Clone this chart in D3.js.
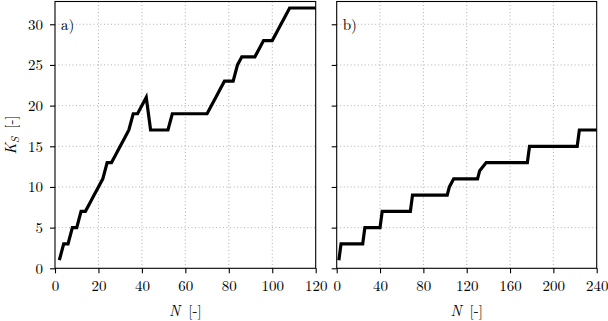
<!DOCTYPE html>
<html>
<head>
<meta charset="utf-8">
<script src="https://cdn.jsdelivr.net/npm/d3@7"></script>
<style>
  body { margin: 0; background: #fff; }
  .grid line { stroke: #b0b0b0; stroke-dasharray: 1,2.5; stroke-width: 1; }
</style>
</head>
<body>
<div id="chart"></div>
<script>
// panel a)
const nA = [2,4,6,8,10,12,14,16,18,20,22,24,26,28,30,32,34,36,38,40,42,44,46,48,50,52,54,56,58,60,62,64,66,68,70,72,74,76,78,80,82,84,86,88,90,92,94,96,98,100,102,104,106,108,110,112,114,116,118,120];
const kA = [1,3,3,5,5,7,7,8,9,10,11,13,13,14,15,16,17,19,19,20,21,17,17,17,17,17,19,19,19,19,19,19,19,19,19,20,21,22,23,23,23,25,26,26,26,26,27,28,28,28,29,30,31,32,32,32,32,32,32,32];

// panel b)
const nB = [2,4,24,26,40,42,68,70,102,104,108,130,132,138,176,178,222,224,240];
const kB = [1,3,3,5,5,7,7,9,9,10,11,11,12,13,13,15,15,17,17];

const ticksA = [0,20,40,60,80,100,120];
const ticksB = [0,40,80,120,160,200,240];
const ticksY = [0,5,10,15,20,25,30];

const W = 608, H = 321;
const yTop = 1.5, yBot = 268.3;
const FONT = '"Latin Modern Roman", "Liberation Serif", serif';

const svg = d3.select('#chart').append('svg')
    .attr('width', W)
    .attr('height', H);

const y = d3.scaleLinear().domain([0, 32.8]).range([yBot, yTop]);

function txt(sel) {
  return sel.style('font-family', FONT).style('font-size', '15px').attr('fill', '#000');
}

function panel(x0, x1, xmax, ticks, ns, ks, label, showY) {
  const x = d3.scaleLinear().domain([0, xmax]).range([x0, x1]);
  const g = svg.append('g');

  // grid
  const grid = g.append('g').attr('class', 'grid');
  grid.selectAll('.gx')
    .data(ticks.filter(t => t > 0 && t < xmax))
    .join('line')
      .attr('x1', d => x(d)).attr('x2', d => x(d))
      .attr('y1', yTop).attr('y2', yBot);
  grid.selectAll('.gy')
    .data(ticksY.filter(t => t > 0))
    .join('line')
      .attr('x1', x0).attr('x2', x1)
      .attr('y1', d => y(d)).attr('y2', d => y(d));

  // line
  const pts = ns.map((n, i) => [n, ks[i]]);
  g.append('path')
    .datum(pts)
    .attr('fill', 'none')
    .attr('stroke', '#000')
    .attr('stroke-width', 3.2)
    .attr('stroke-linejoin', 'miter')
    .attr('d', d3.line().x(d => x(d[0])).y(d => y(d[1])));

  // frame
  g.append('rect')
    .attr('x', x0).attr('y', yTop)
    .attr('width', x1 - x0).attr('height', yBot - yTop)
    .attr('fill', 'none').attr('stroke', '#000').attr('stroke-width', 1.1);

  // axes
  const ax = g.append('g')
    .attr('transform', `translate(0,${yBot})`)
    .call(d3.axisBottom(x).tickValues(ticks).tickSize(5).tickPadding(7).tickFormat(d3.format('d')));
  ax.select('.domain').remove();
  ax.selectAll('line').attr('stroke-width', 1.1);
  txt(ax.selectAll('text')).attr('dy', '0.71em');

  const ay = g.append('g')
    .attr('transform', `translate(${x0},0)`)
    .call(d3.axisLeft(y).tickValues(ticksY).tickSize(5).tickPadding(7)
      .tickFormat(showY ? d3.format('d') : ''));
  ay.select('.domain').remove();
  ay.selectAll('line').attr('stroke-width', 1.1);
  txt(ay.selectAll('text'));

  txt(g.append('text'))
    .attr('x', x0 + 6).attr('y', 30)
    .text(label);

  // x label
  const xl = txt(g.append('text'))
    .attr('x', (x0 + x1) / 2).attr('y', 316)
    .attr('text-anchor', 'middle');
  xl.append('tspan').style('font-style', 'italic').text('N');
  xl.append('tspan').text('\u2009 [-]');
}

panel(55, 315.7, 120, ticksA, nA, kA, 'a)', true);
panel(336.7, 596.7, 240, ticksB, nB, kB, 'b)', false);

// y label
const yl = txt(svg.append('text'))
  .attr('transform', `translate(16,${(yTop + yBot) / 2}) rotate(-90)`)
  .attr('text-anchor', 'middle');
yl.append('tspan').style('font-style', 'italic').text('K');
yl.append('tspan').style('font-style', 'italic').style('font-size', '11px').attr('dy', 3).text('S');
yl.append('tspan').attr('dy', -3).text('\u2009 [-]');
</script>
</body>
</html>
